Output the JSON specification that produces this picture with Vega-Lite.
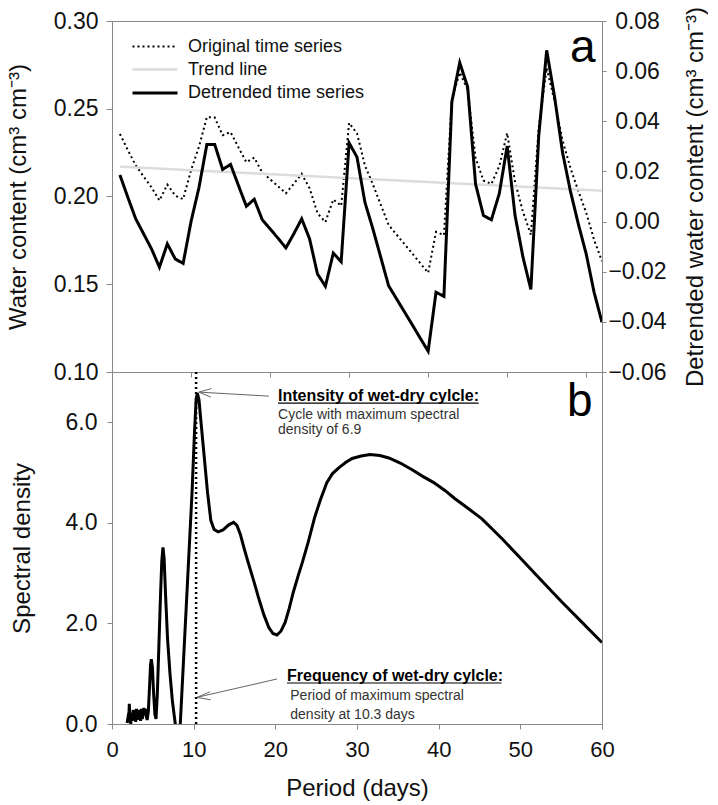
{
  "$schema": "https://vega.github.io/schema/vega-lite/v6.json",
  "background": "white",
  "padding": {"left": 5, "top": 5, "right": 0, "bottom": 0},
  "spacing": 0,
  "bounds": "flush",
  "datasets": {
    "ts": [
      {"day": 1, "series": "Original time series", "value": 0.2356},
      {"day": 2, "series": "Original time series", "value": 0.2265},
      {"day": 3, "series": "Original time series", "value": 0.2177},
      {"day": 4, "series": "Original time series", "value": 0.2114},
      {"day": 5, "series": "Original time series", "value": 0.2052},
      {"day": 6, "series": "Original time series", "value": 0.1977},
      {"day": 7, "series": "Original time series", "value": 0.2068},
      {"day": 8, "series": "Original time series", "value": 0.2005},
      {"day": 9, "series": "Original time series", "value": 0.1985},
      {"day": 10, "series": "Original time series", "value": 0.2150},
      {"day": 11, "series": "Original time series", "value": 0.2283},
      {"day": 12, "series": "Original time series", "value": 0.2452},
      {"day": 13, "series": "Original time series", "value": 0.2450},
      {"day": 14, "series": "Original time series", "value": 0.2349},
      {"day": 15, "series": "Original time series", "value": 0.2367},
      {"day": 16, "series": "Original time series", "value": 0.2280},
      {"day": 17, "series": "Original time series", "value": 0.2195},
      {"day": 18, "series": "Original time series", "value": 0.2221},
      {"day": 19, "series": "Original time series", "value": 0.2138},
      {"day": 20, "series": "Original time series", "value": 0.2098},
      {"day": 21, "series": "Original time series", "value": 0.2059},
      {"day": 22, "series": "Original time series", "value": 0.2018},
      {"day": 23, "series": "Original time series", "value": 0.2072},
      {"day": 24, "series": "Original time series", "value": 0.2129},
      {"day": 25, "series": "Original time series", "value": 0.2047},
      {"day": 26, "series": "Original time series", "value": 0.1905},
      {"day": 27, "series": "Original time series", "value": 0.1854},
      {"day": 28, "series": "Original time series", "value": 0.1983},
      {"day": 29, "series": "Original time series", "value": 0.1947},
      {"day": 30, "series": "Original time series", "value": 0.2419},
      {"day": 31, "series": "Original time series", "value": 0.2360},
      {"day": 32, "series": "Original time series", "value": 0.2177},
      {"day": 33, "series": "Original time series", "value": 0.2070},
      {"day": 34, "series": "Original time series", "value": 0.1954},
      {"day": 35, "series": "Original time series", "value": 0.1838},
      {"day": 36, "series": "Original time series", "value": 0.1783},
      {"day": 37, "series": "Original time series", "value": 0.1729},
      {"day": 38, "series": "Original time series", "value": 0.1675},
      {"day": 39, "series": "Original time series", "value": 0.1620},
      {"day": 40, "series": "Original time series", "value": 0.1565},
      {"day": 41, "series": "Original time series", "value": 0.1798},
      {"day": 42, "series": "Original time series", "value": 0.1780},
      {"day": 43, "series": "Original time series", "value": 0.2553},
      {"day": 44, "series": "Original time series", "value": 0.2707},
      {"day": 45, "series": "Original time series", "value": 0.2608},
      {"day": 46, "series": "Original time series", "value": 0.2219},
      {"day": 47, "series": "Original time series", "value": 0.2091},
      {"day": 48, "series": "Original time series", "value": 0.2071},
      {"day": 49, "series": "Original time series", "value": 0.2173},
      {"day": 50, "series": "Original time series", "value": 0.2361},
      {"day": 51, "series": "Original time series", "value": 0.2082},
      {"day": 52, "series": "Original time series", "value": 0.1913},
      {"day": 53, "series": "Original time series", "value": 0.1782},
      {"day": 54, "series": "Original time series", "value": 0.2394},
      {"day": 55, "series": "Original time series", "value": 0.2732},
      {"day": 56, "series": "Original time series", "value": 0.2543},
      {"day": 57, "series": "Original time series", "value": 0.2321},
      {"day": 58, "series": "Original time series", "value": 0.2164},
      {"day": 59, "series": "Original time series", "value": 0.2031},
      {"day": 60, "series": "Original time series", "value": 0.1908},
      {"day": 61, "series": "Original time series", "value": 0.1753},
      {"day": 62, "series": "Original time series", "value": 0.1631},
      {"day": 1, "series": "Trend line", "value": 0.2170},
      {"day": 62, "series": "Trend line", "value": 0.2033},
      {"day": 1, "series": "Detrended time series", "value": 0.0186},
      {"day": 2, "series": "Detrended time series", "value": 0.0097},
      {"day": 3, "series": "Detrended time series", "value": 0.0011},
      {"day": 4, "series": "Detrended time series", "value": -0.0049},
      {"day": 5, "series": "Detrended time series", "value": -0.0109},
      {"day": 6, "series": "Detrended time series", "value": -0.0182},
      {"day": 7, "series": "Detrended time series", "value": -0.0089},
      {"day": 8, "series": "Detrended time series", "value": -0.0149},
      {"day": 9, "series": "Detrended time series", "value": -0.0167},
      {"day": 10, "series": "Detrended time series", "value": 0.0000},
      {"day": 11, "series": "Detrended time series", "value": 0.0135},
      {"day": 12, "series": "Detrended time series", "value": 0.0307},
      {"day": 13, "series": "Detrended time series", "value": 0.0307},
      {"day": 14, "series": "Detrended time series", "value": 0.0208},
      {"day": 15, "series": "Detrended time series", "value": 0.0228},
      {"day": 16, "series": "Detrended time series", "value": 0.0144},
      {"day": 17, "series": "Detrended time series", "value": 0.0061},
      {"day": 18, "series": "Detrended time series", "value": 0.0089},
      {"day": 19, "series": "Detrended time series", "value": 0.0008},
      {"day": 20, "series": "Detrended time series", "value": -0.0029},
      {"day": 21, "series": "Detrended time series", "value": -0.0066},
      {"day": 22, "series": "Detrended time series", "value": -0.0105},
      {"day": 23, "series": "Detrended time series", "value": -0.0049},
      {"day": 24, "series": "Detrended time series", "value": 0.0011},
      {"day": 25, "series": "Detrended time series", "value": -0.0069},
      {"day": 26, "series": "Detrended time series", "value": -0.0209},
      {"day": 27, "series": "Detrended time series", "value": -0.0258},
      {"day": 28, "series": "Detrended time series", "value": -0.0126},
      {"day": 29, "series": "Detrended time series", "value": -0.0160},
      {"day": 30, "series": "Detrended time series", "value": 0.0314},
      {"day": 31, "series": "Detrended time series", "value": 0.0257},
      {"day": 32, "series": "Detrended time series", "value": 0.0077},
      {"day": 33, "series": "Detrended time series", "value": -0.0028},
      {"day": 34, "series": "Detrended time series", "value": -0.0142},
      {"day": 35, "series": "Detrended time series", "value": -0.0256},
      {"day": 36, "series": "Detrended time series", "value": -0.0308},
      {"day": 37, "series": "Detrended time series", "value": -0.0360},
      {"day": 38, "series": "Detrended time series", "value": -0.0412},
      {"day": 39, "series": "Detrended time series", "value": -0.0465},
      {"day": 40, "series": "Detrended time series", "value": -0.0517},
      {"day": 41, "series": "Detrended time series", "value": -0.0282},
      {"day": 42, "series": "Detrended time series", "value": -0.0298},
      {"day": 43, "series": "Detrended time series", "value": 0.0477},
      {"day": 44, "series": "Detrended time series", "value": 0.0634},
      {"day": 45, "series": "Detrended time series", "value": 0.0537},
      {"day": 46, "series": "Detrended time series", "value": 0.0150},
      {"day": 47, "series": "Detrended time series", "value": 0.0024},
      {"day": 48, "series": "Detrended time series", "value": 0.0007},
      {"day": 49, "series": "Detrended time series", "value": 0.0111},
      {"day": 50, "series": "Detrended time series", "value": 0.0301},
      {"day": 51, "series": "Detrended time series", "value": 0.0024},
      {"day": 52, "series": "Detrended time series", "value": -0.0142},
      {"day": 53, "series": "Detrended time series", "value": -0.0271},
      {"day": 54, "series": "Detrended time series", "value": 0.0343},
      {"day": 55, "series": "Detrended time series", "value": 0.0683},
      {"day": 56, "series": "Detrended time series", "value": 0.0497},
      {"day": 57, "series": "Detrended time series", "value": 0.0277},
      {"day": 58, "series": "Detrended time series", "value": 0.0122},
      {"day": 59, "series": "Detrended time series", "value": -0.0009},
      {"day": 60, "series": "Detrended time series", "value": -0.0129},
      {"day": 61, "series": "Detrended time series", "value": -0.0282},
      {"day": 62, "series": "Detrended time series", "value": -0.0402}
    ],
    "spec": [
      {"period": 1.85, "density": 0.02}, {"period": 1.95, "density": 0.12}, {"period": 2.05, "density": 0.08},
      {"period": 2.12, "density": 0.40}, {"period": 2.2, "density": 0.05}, {"period": 2.3, "density": 0.02},
      {"period": 2.4, "density": 0.22}, {"period": 2.5, "density": 0.06}, {"period": 2.6, "density": 0.28},
      {"period": 2.7, "density": 0.10}, {"period": 2.8, "density": 0.24}, {"period": 2.9, "density": 0.04},
      {"period": 3.0, "density": 0.30}, {"period": 3.1, "density": 0.08}, {"period": 3.2, "density": 0.26},
      {"period": 3.3, "density": 0.12}, {"period": 3.4, "density": 0.28}, {"period": 3.5, "density": 0.06},
      {"period": 3.6, "density": 0.30}, {"period": 3.7, "density": 0.10}, {"period": 3.8, "density": 0.18},
      {"period": 3.9, "density": 0.32}, {"period": 4.0, "density": 0.22}, {"period": 4.1, "density": 0.30},
      {"period": 4.2, "density": 0.16}, {"period": 4.3, "density": 0.08}, {"period": 4.45, "density": 0.25},
      {"period": 4.6, "density": 0.75}, {"period": 4.72, "density": 1.18}, {"period": 4.82, "density": 1.29},
      {"period": 4.95, "density": 1.12}, {"period": 5.1, "density": 0.6}, {"period": 5.25, "density": 0.2},
      {"period": 5.39, "density": 0.1}, {"period": 5.55, "density": 0.6}, {"period": 5.75, "density": 1.6},
      {"period": 5.95, "density": 2.6}, {"period": 6.1, "density": 3.25}, {"period": 6.24, "density": 3.51},
      {"period": 6.38, "density": 3.3}, {"period": 6.55, "density": 2.6}, {"period": 6.8, "density": 1.7},
      {"period": 7.1, "density": 1.0}, {"period": 7.4, "density": 0.45}, {"period": 7.75, "density": 0.0},
      {"period": 8.0, "density": -0.4}, {"period": 8.15, "density": -0.4}, {"period": 8.36, "density": 0.0},
      {"period": 8.8, "density": 1.4}, {"period": 9.3, "density": 3.0}, {"period": 9.8, "density": 4.6},
      {"period": 10.1, "density": 5.8}, {"period": 10.3, "density": 6.45}, {"period": 10.45, "density": 6.58},
      {"period": 10.65, "density": 6.45}, {"period": 10.9, "density": 6.0}, {"period": 11.3, "density": 5.3},
      {"period": 11.7, "density": 4.6}, {"period": 12.1, "density": 4.05}, {"period": 12.5, "density": 3.87},
      {"period": 13.0, "density": 3.82}, {"period": 13.6, "density": 3.86}, {"period": 14.3, "density": 3.96},
      {"period": 14.9, "density": 4.01}, {"period": 15.3, "density": 3.95}, {"period": 15.7, "density": 3.78},
      {"period": 16.2, "density": 3.48}, {"period": 16.7, "density": 3.2}, {"period": 17.4, "density": 2.82},
      {"period": 18.0, "density": 2.48}, {"period": 18.6, "density": 2.17}, {"period": 19.2, "density": 1.92},
      {"period": 19.7, "density": 1.8}, {"period": 20.2, "density": 1.77}, {"period": 20.7, "density": 1.85},
      {"period": 21.2, "density": 2.02}, {"period": 21.7, "density": 2.3}, {"period": 22.2, "density": 2.62},
      {"period": 22.8, "density": 2.95}, {"period": 23.3, "density": 3.21}, {"period": 24.0, "density": 3.6},
      {"period": 24.8, "density": 4.1}, {"period": 25.5, "density": 4.45}, {"period": 26.3, "density": 4.8},
      {"period": 27.0, "density": 4.98}, {"period": 27.8, "density": 5.1}, {"period": 28.6, "density": 5.2},
      {"period": 29.4, "density": 5.28}, {"period": 30.5, "density": 5.33}, {"period": 31.6, "density": 5.36},
      {"period": 32.8, "density": 5.34}, {"period": 33.9, "density": 5.29}, {"period": 35.3, "density": 5.19},
      {"period": 36.7, "density": 5.06}, {"period": 38.0, "density": 4.93}, {"period": 39.4, "density": 4.8},
      {"period": 40.8, "density": 4.64}, {"period": 42.0, "density": 4.48}, {"period": 43.5, "density": 4.3},
      {"period": 45.3, "density": 4.08}, {"period": 47.8, "density": 3.68}, {"period": 50.0, "density": 3.3},
      {"period": 52.5, "density": 2.87}, {"period": 55.0, "density": 2.44}, {"period": 57.5, "density": 2.03},
      {"period": 60.0, "density": 1.62}
    ]
  },
  "vconcat": [
    {
      "width": 490,
      "height": 351,
      "layer": [
        {
          "layer": [
            {
              "data": {"name": "ts"},
              "transform": [{"filter": "datum.series != 'Detrended time series'"}],
              "mark": {"type": "line", "clip": true},
              "encoding": {
                "x": {"field": "day", "type": "quantitative", "scale": {"domain": [0, 62], "nice": false, "zero": false},
                      "axis": {"values": [0, 10, 20, 30, 40, 50, 60], "labels": false, "title": null, "tickSize": 5, "orient": "bottom"}},
                "y": {"field": "value", "type": "quantitative", "scale": {"domain": [0.1, 0.3], "nice": false, "zero": false},
                      "axis": {"values": [0.1, 0.15, 0.2, 0.25, 0.3], "format": ".2f", "title": "Water content (cm³ cm⁻³)", "tickSize": 6, "labelPadding": 8, "titlePadding": 23}},
                "color": {"field": "series", "type": "nominal",
                          "scale": {"domain": ["Original time series", "Trend line", "Detrended time series"], "range": ["#000000", "#dcdcdc", "#000000"]},
                          "legend": {"title": null, "orient": "none", "legendX": 30, "legendY": 13, "symbolType": "M-2,0H2", "symbolSize": 506, "symbolFillColor": "transparent", "labelFontSize": 18, "labelColor": "#111111", "labelOffset": 20, "labelLimit": 400, "rowPadding": 1, "padding": 0}},
                "strokeDash": {"field": "series", "type": "nominal",
                          "scale": {"domain": ["Original time series", "Trend line", "Detrended time series"], "range": [[2, 3], [1, 0], [1, 0]]}},
                "strokeWidth": {"field": "series", "type": "nominal",
                          "scale": {"domain": ["Original time series", "Trend line", "Detrended time series"], "range": [2, 3, 2.5]}}
              }
            },
            {
              "data": {"values": [{"day": 61.2, "value": 0.2766, "label": "a"}]},
              "mark": {"type": "text", "align": "right", "baseline": "alphabetic", "fontSize": 46, "color": "#000000"},
              "encoding": {
                "x": {"field": "day", "type": "quantitative"},
                "y": {"field": "value", "type": "quantitative"},
                "text": {"field": "label"}
              }
            }
          ]
        },
        {
          "data": {"name": "ts"},
          "transform": [{"filter": "datum.series == 'Detrended time series'"}],
          "mark": {"type": "line", "clip": true},
          "encoding": {
            "x": {"field": "day", "type": "quantitative"},
            "y": {"field": "value", "type": "quantitative", "scale": {"domain": [-0.06, 0.08], "nice": false, "zero": false},
                  "axis": {"orient": "right", "values": [-0.06, -0.04, -0.02, 0, 0.02, 0.04, 0.06, 0.08], "format": ".2f", "title": "Detrended water content (cm³ cm⁻³)", "tickSize": 4, "labelAlign": "center", "labelPadding": 31, "titleAngle": 270, "titleBaseline": "top", "titlePadding": 17}},
            "color": {"field": "series", "type": "nominal",
                      "scale": {"domain": ["Original time series", "Trend line", "Detrended time series"], "range": ["#000000", "#dcdcdc", "#000000"]}},
            "strokeDash": {"field": "series", "type": "nominal",
                      "scale": {"domain": ["Original time series", "Trend line", "Detrended time series"], "range": [[2, 3], [1, 0], [1, 0]]}},
            "strokeWidth": {"field": "series", "type": "nominal",
                      "scale": {"domain": ["Original time series", "Trend line", "Detrended time series"], "range": [2, 3, 2.5]}}
          }
        }
      ],
      "resolve": {"scale": {"y": "independent"}}
    },
    {
      "width": 490,
      "height": 352,
      "layer": [
        {
          "data": {"name": "spec"},
          "mark": {"type": "line", "clip": true, "color": "#000000", "strokeWidth": 3},
          "encoding": {
            "x": {"field": "period", "type": "quantitative", "scale": {"domain": [0, 60], "nice": false, "zero": false},
                  "axis": {"values": [0, 10, 20, 30, 40, 50, 60], "title": "Period (days)", "labelFontSize": 22, "labelFlush": false, "labelPadding": 10, "titlePadding": 16}},
            "y": {"field": "density", "type": "quantitative", "scale": {"domain": [0, 7], "nice": false, "zero": false},
                  "axis": {"values": [0, 2, 4, 6], "format": ".1f", "title": "Spectral density", "labelPadding": 10, "titlePadding": 31}}
          }
        },
        {
          "data": {"values": [{"period": 10.3}]},
          "mark": {"type": "rule", "color": "#000000", "strokeWidth": 2.5, "strokeDash": [2, 3]},
          "encoding": {
            "x": {"field": "period", "type": "quantitative", "title": "Period (days)"}
          }
        },
        {
          "data": {"values": [
            {"period": 19.22, "density": 6.52, "period2": 10.65, "density2": 6.60},
            {"period": 10.65, "density": 6.60, "period2": 12.18, "density2": 6.67},
            {"period": 10.65, "density": 6.60, "period2": 12.11, "density2": 6.50},
            {"period": 20.2, "density": 0.895, "period2": 10.41, "density2": 0.53},
            {"period": 10.41, "density": 0.53, "period2": 12.0, "density2": 0.64},
            {"period": 10.41, "density": 0.53, "period2": 12.1, "density2": 0.48}
          ]},
          "mark": {"type": "rule", "color": "#666666", "strokeWidth": 1},
          "encoding": {
            "x": {"field": "period", "type": "quantitative", "title": "Period (days)"},
            "y": {"field": "density", "type": "quantitative", "title": "Spectral density"},
            "x2": {"field": "period2"},
            "y2": {"field": "density2"}
          }
        },
        {
          "data": {"values": [
            {"period": 20.33, "period2": 44.9, "density": 6.38},
            {"period": 21.43, "period2": 47.7, "density": 0.815}
          ]},
          "mark": {"type": "rule", "color": "#000000", "strokeWidth": 1.2},
          "encoding": {
            "x": {"field": "period", "type": "quantitative", "title": "Period (days)"},
            "x2": {"field": "period2"},
            "y": {"field": "density", "type": "quantitative", "title": "Spectral density"}
          }
        },
        {
          "data": {"values": [
            {"period": 20.33, "density": 6.42, "label": "Intensity of wet-dry cylcle:"},
            {"period": 21.43, "density": 0.86, "label": "Frequency of wet-dry cylcle:"}
          ]},
          "mark": {"type": "text", "align": "left", "baseline": "alphabetic", "fontSize": 16, "fontWeight": "bold", "color": "#000000"},
          "encoding": {
            "x": {"field": "period", "type": "quantitative", "title": "Period (days)"},
            "y": {"field": "density", "type": "quantitative", "title": "Spectral density"},
            "text": {"field": "label"}
          }
        },
        {
          "data": {"values": [
            {"period": 20.33, "density": 6.06, "label": "Cycle with maximum spectral"},
            {"period": 20.33, "density": 5.77, "label": "density of 6.9"},
            {"period": 21.83, "density": 0.477, "label": "Period of maximum spectral"},
            {"period": 21.83, "density": 0.10, "label": "density at 10.3 days"}
          ]},
          "mark": {"type": "text", "align": "left", "baseline": "alphabetic", "fontSize": 14, "color": "#333333"},
          "encoding": {
            "x": {"field": "period", "type": "quantitative", "title": "Period (days)"},
            "y": {"field": "density", "type": "quantitative", "title": "Spectral density"},
            "text": {"field": "label"}
          }
        },
        {
          "data": {"values": [{"period": 58.86, "density": 6.13, "label": "b"}]},
          "mark": {"type": "text", "align": "right", "baseline": "alphabetic", "fontSize": 46, "color": "#000000"},
          "encoding": {
            "x": {"field": "period", "type": "quantitative", "title": "Period (days)"},
            "y": {"field": "density", "type": "quantitative", "title": "Spectral density"},
            "text": {"field": "label"}
          }
        }
      ]
    }
  ],
  "config": {
    "font": "Liberation Sans",
    "view": {"stroke": "#888888", "strokeWidth": 1},
    "axis": {
      "domainColor": "#888888", "tickColor": "#888888", "labelColor": "#111111", "titleColor": "#111111",
      "labelFontSize": 23, "titleFontSize": 24, "titleFontWeight": "normal", "grid": false, "tickSize": 5,
      "labelFont": "Liberation Sans", "titleFont": "Liberation Sans"
    },
    "legend": {"labelFont": "Liberation Sans"},
    "text": {"font": "Liberation Sans"}
  }
}
